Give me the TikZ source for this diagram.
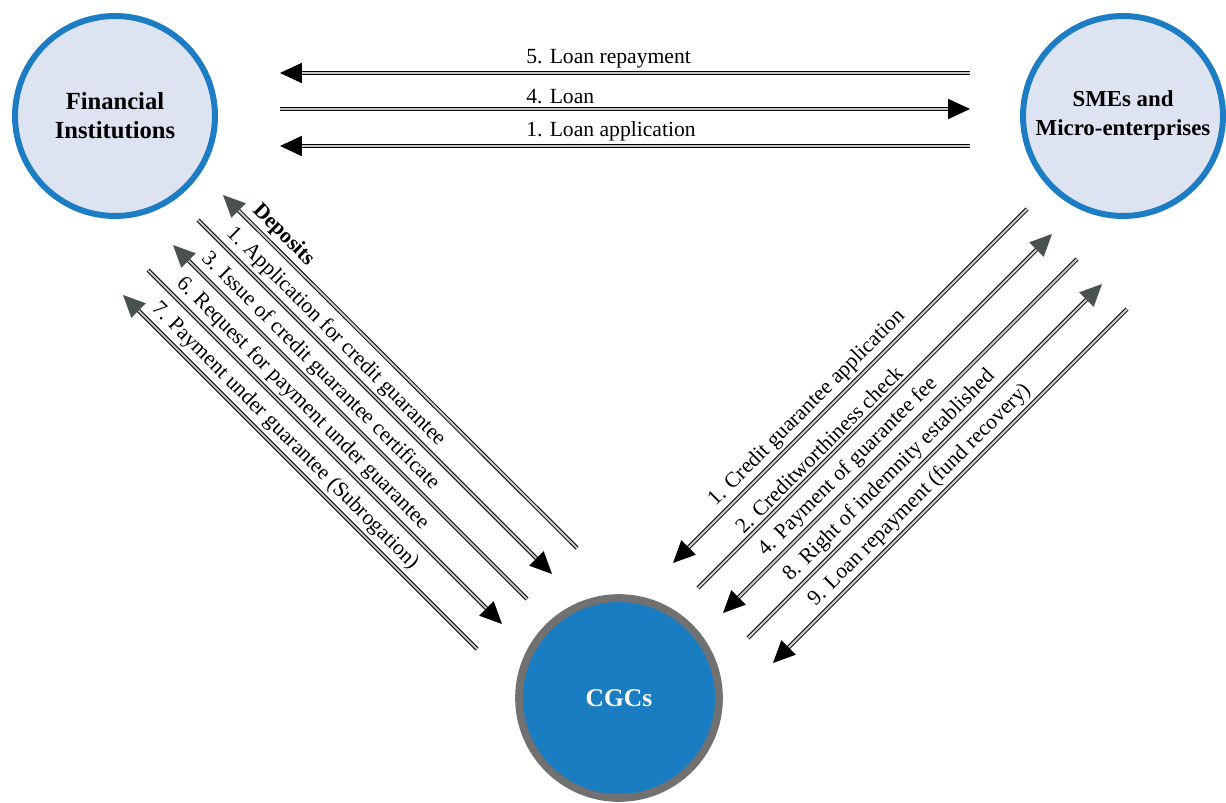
\documentclass[tikz,border=0pt]{standalone}
\usepackage{fontspec}
\setmainfont{Liberation Serif}
\usepackage{tikz}
\usepackage{xcolor}
\usetikzlibrary{arrows.meta}
\usetikzlibrary{shadows}

\definecolor{ringblue}{HTML}{1C7DC4}
\definecolor{paleblue}{HTML}{DDE3F1}
\definecolor{cgcblue}{HTML}{1A7DC2}
\definecolor{ringgray}{HTML}{717171}
\definecolor{upgray}{HTML}{4A5251}

\tikzset{
  party/.style={circle, draw=ringblue, line width=3.4pt, fill=paleblue,
    minimum size=4cm, align=center, font=\fontsize{14}{16.5}\selectfont\bfseries,
    circular drop shadow={shadow scale=1.02, opacity=.3}},
  hub/.style={circle, draw=ringgray, line width=4.4pt, fill=cgcblue, text=white,
    minimum size=4cm, font=\fontsize{14.5}{17}\selectfont\bfseries,
    circular drop shadow={shadow scale=1.02, opacity=.3}},
  dbl/.style={line width=.55pt, double=black!22, double distance=1.2pt},
  lbl/.style={font=\fontsize{12.3}{14}\selectfont, inner sep=2.5pt},
  dnend/.style={-{Triangle[length=12.5pt,width=11.5pt]}},
  dnstart/.style={{Triangle[length=12.5pt,width=11.5pt]}-},
  upend/.style={-{Triangle[length=12.5pt,width=11.5pt,color=upgray]}},
  upstart/.style={{Triangle[length=12.5pt,width=11.5pt,color=upgray]}-}
}

\begin{document}
\begin{tikzpicture}[x=0.02cm,y=-0.02cm]
  \useasboundingbox (0,0) rectangle (1226,803);

  \node (fi) [party] at (115,116) {Financial\\Institutions};
  \node (sme) [party,font=\fontsize{13}{16.5}\selectfont\bfseries] at (1123,116)
    {SMEs and\\Micro-enterprises};
  \node (cgc) [hub] at (619,698) {CGCs};

  % loans between banks and firms
  \path (node cs:name=fi,anchor=center) +(165,-43) coordinate (rpyl) {};
  \path (node cs:name=sme,anchor=center) +(-153,-43) coordinate (rpyr) {};
  \draw[dbl,dnstart] (rpyl) -- (rpyr) node [lbl,pos=.35,above right] {5. Loan repayment};
  \path (node cs:name=fi,anchor=center) +(165,-7) coordinate (lnl) {};
  \path (node cs:name=sme,anchor=center) +(-153,-7) coordinate (lnr) {};
  \draw[dbl,dnend] (lnl) -- (lnr) node [lbl,pos=.35,above right] {4. Loan};
  \path (node cs:name=fi,anchor=center) +(165,30) coordinate (lal) {};
  \path (node cs:name=sme,anchor=center) +(-153,30) coordinate (lar) {};
  \draw[dbl,dnstart] (lal) -- (lar) node [lbl,pos=.35,above right] {1. Loan application};

  % banks and CGCs
  \path (node cs:name=fi,anchor=center) +(108,79) coordinate (dpt) {};
  \path (node cs:name=cgc,anchor=center) +(-42,-150) coordinate (dpb) {};
  \draw[dbl,upstart] (dpt) -- (dpb)
    node [lbl,pos=.055,sloped,above right,font=\fontsize{12.3}{14}\selectfont\bfseries] {Deposits};
  \path (node cs:name=fi,anchor=center) +(83,104) coordinate (agt) {};
  \path (node cs:name=cgc,anchor=center) +(-67,-124) coordinate (agb) {};
  \draw[dbl,dnend] (agt) -- (agb)
    node [lbl,pos=.05,sloped,above right] {1. Application for credit guarantee};
  \path (node cs:name=fi,anchor=center) +(58,129) coordinate (ict) {};
  \path (node cs:name=cgc,anchor=center) +(-92,-99) coordinate (icb) {};
  \draw[dbl,upstart] (ict) -- (icb)
    node [lbl,pos=.05,sloped,above right] {3. Issue of credit guarantee certificate};
  \path (node cs:name=fi,anchor=center) +(33,154) coordinate (rpt) {};
  \path (node cs:name=cgc,anchor=center) +(-117,-74) coordinate (rpb) {};
  \draw[dbl,dnend] (rpt) -- (rpb)
    node [lbl,pos=.05,sloped,above right] {6. Request for payment under guarantee};
  \path (node cs:name=fi,anchor=center) +(8,179) coordinate (pgt) {};
  \path (node cs:name=cgc,anchor=center) +(-142,-49) coordinate (pgb) {};
  \draw[dbl,upstart] (pgt) -- (pgb)
    node [lbl,pos=.05,sloped,above right] {7. Payment under guarantee (Subrogation)};

  % firms and CGCs
  \path (node cs:name=cgc,anchor=center) +(54,-135) coordinate (gab) {};
  \path (node cs:name=sme,anchor=center) +(-96,93) coordinate (gat) {};
  \draw[dbl,dnstart] (gab) -- (gat)
    node [lbl,pos=.13,sloped,above right] {1. Credit guarantee application};
  \path (node cs:name=cgc,anchor=center) +(79,-110) coordinate (cwb) {};
  \path (node cs:name=sme,anchor=center) +(-71,118) coordinate (cwt) {};
  \draw[dbl,upend] (cwb) -- (cwt)
    node [lbl,pos=.13,sloped,above right] {2. Creditworthiness check};
  \path (node cs:name=cgc,anchor=center) +(104,-85) coordinate (gfb) {};
  \path (node cs:name=sme,anchor=center) +(-46,143) coordinate (gft) {};
  \draw[dbl,dnstart] (gfb) -- (gft)
    node [lbl,pos=.13,sloped,above right] {4. Payment of guarantee fee};
  \path (node cs:name=cgc,anchor=center) +(129,-60) coordinate (rib) {};
  \path (node cs:name=sme,anchor=center) +(-21,168) coordinate (rit) {};
  \draw[dbl,upend] (rib) -- (rit)
    node [lbl,pos=.13,sloped,above right] {8. Right of indemnity established};
  \path (node cs:name=cgc,anchor=center) +(154,-35) coordinate (frb) {};
  \path (node cs:name=sme,anchor=center) +(4,193) coordinate (frt) {};
  \draw[dbl,dnstart] (frb) -- (frt)
    node [lbl,pos=.13,sloped,above right] {9. Loan repayment (fund recovery)};
\end{tikzpicture}
\end{document}
